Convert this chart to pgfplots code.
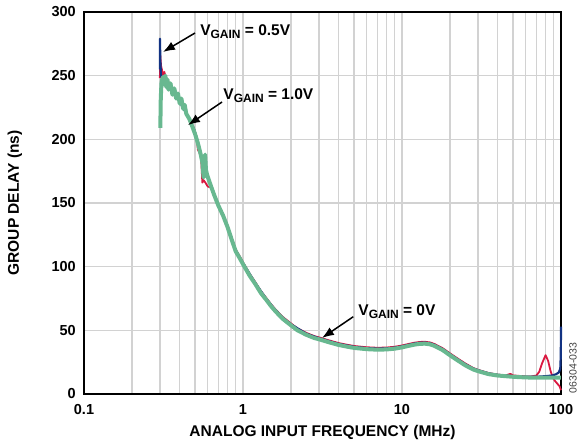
\documentclass[border=0pt]{standalone}
\usepackage{fontspec}
\setmainfont{Liberation Sans}
\usepackage{pgfplots}
\pgfplotsset{compat=1.18}
\usetikzlibrary{arrows.meta}

\definecolor{vred}{RGB}{218,24,64}
\definecolor{vblue}{RGB}{18,50,130}
\definecolor{vgreen}{RGB}{104,184,144}
\definecolor{gridgray}{RGB}{210,210,210}

\newcommand\vg[1]{V\raisebox{-3pt}{\fontsize{12}{13}\selectfont GAIN} = #1}

\begin{document}
\begin{tikzpicture}[x=1pt,y=1pt]
\useasboundingbox (0,0) rectangle (578,446);
\begin{axis}[
  at={(84pt,52pt)}, anchor=south west,
  scale only axis, width=477pt, height=382pt,
  xmode=log, xmin=0.1, xmax=100, ymin=0, ymax=300,
  xtick={0.1,1,10,100}, xticklabels={0.1,1,10,100},
  minor xtick={0.2,0.3,0.4,0.5,0.6,0.7,0.8,0.9,2,3,4,5,6,7,8,9,20,30,40,50,60,70,80,90},
  ytick={0,50,100,150,200,250,300},
  grid=both,
  major grid style={gridgray, line width=1.3pt},
  minor grid style={gridgray, line width=1.3pt},
  axis line style={line width=2pt},
  major tick length=0pt, minor tick length=0pt,
  tick label style={font=\bfseries\fontsize{14.5}{16}\selectfont},
  /pgf/number format/assume math mode=true,
  yticklabel style={inner sep=0pt, anchor=east, xshift=-8pt},
  xticklabel style={inner sep=0pt, anchor=north, yshift=-10pt},
  xlabel={ANALOG INPUT FREQUENCY (MHz)},
  ylabel={GROUP DELAY (ns)},
  label style={font=\bfseries\fontsize{15.5}{18}\selectfont},
  xlabel style={at={(axis description cs:0.5,-0.0995)}, anchor=center},
  ylabel style={at={(axis description cs:-0.1447,0.5)}, anchor=center},
  clip=false,
]
% V_GAIN = 0V
\addplot[vred, line width=1.8pt, line join=round] coordinates {
(0.300,248)(0.302,266)(0.305,258)(0.31,254)(0.315,250)(0.32,253)(0.33,247)(0.34,245)
(0.35,243)(0.37,238)(0.40,230)(0.43,223)(0.46,216)(0.49,209)(0.51,202)(0.52,192)
(0.53,190)(0.545,186)(0.555,166)(0.565,168)(0.58,166)(0.60,163)(0.63,162)(0.66,157)
(0.70,149)(0.75,141)(0.80,132)(0.85,122.5)(0.90,113.5)(0.95,108.5)(1.0,103.5)
(1.1,94.5)(1.2,87.5)(1.3,80.5)(1.4,75.5)(1.5,70.5)(1.6,66.5)(1.7,63)(1.8,60)
(2.0,55.5)(2.2,51.5)(2.5,48)(2.8,45.5)(3.0,44.5)(3.5,42)(4,40)(4.5,38.7)(5,37.7)
(6,36.7)(7,36.3)(8,36.5)(9,37.1)(10,38.1)(11,39.3)(12,40.3)(13,40.9)(14,41)
(15,40.5)(16,39.3)(18,36)(20,32)(22,28.5)(25,24)(28,20.5)(30,19)(35,16.5)
(40,15.2)(45,14.6)(48,15.8)(50,14.6)(60,13.8)(65,13.8)(70,14.5)(73,17.5)(76,24)
(80,30.5)(83,26)(86,18)(89,12.5)(92,10)(95,8)(98,6)(100,3)
};
% V_GAIN = 0.5V
\addplot[vblue, line width=2.2pt, line join=round] coordinates {
(0.300,255)(0.3005,279)(0.302,262)(0.305,250)(0.31,248)(0.32,246)(0.33,245)(0.35,243)
(0.37,238)(0.40,229.5)(0.43,222.5)(0.46,215.5)(0.49,208.5)(0.52,198)(0.55,186)
(0.58,172)(0.61,168.5)(0.66,156.5)(0.70,148.5)(0.75,140.5)(0.80,131.5)(0.85,121.7)
(0.90,112.7)(1.0,102.8)(1.2,86.8)(1.4,74.8)(1.6,65.8)(1.8,59.3)(2.0,54.8)(2.5,47.3)
(3.0,43.8)(3.5,41.3)(4,39.3)(5,37)(6,36)(7,35.6)(8,35.8)(9,36.4)(10,37.4)(11,38.6)
(12,39.6)(13,40.2)(14,40.3)(15,39.8)(16,38.6)(18,35.3)(20,31.3)(22,27.8)(25,23.3)
(28,20)(30,18.7)(35,16.2)(40,15)(50,14)(60,13.5)(70,13.5)(80,14)(88,14.5)(93,15.5)
(97,17)(99,20)(99.7,30)(100,53)
};
% V_GAIN = 1.0V
\addplot[vgreen, line width=4pt, line join=round] coordinates {
(0.302,209)(0.304,232)(0.307,244)(0.31,247)(0.315,249)(0.32,243)(0.325,250)(0.33,241)
(0.335,247)(0.34,239)(0.35,244)(0.36,235)(0.37,240)(0.38,232)(0.39,236)(0.40,228)
(0.41,232)(0.42,224)(0.43,227)(0.44,220)(0.46,216)(0.48,210)(0.50,204)(0.52,197)
(0.54,189)(0.555,182)(0.565,170)(0.572,180)(0.578,188)(0.585,176)(0.595,172)
(0.61,168)(0.63,163)(0.66,156)(0.70,148)(0.75,140)(0.80,131)(0.85,121)(0.90,112)
(0.95,107)(1.0,102)(1.1,93)(1.2,86)(1.3,79)(1.4,74)(1.5,69)(1.6,65)(1.7,61.5)
(1.8,58.5)(2.0,54)(2.2,50)(2.5,46.5)(2.8,44)(3.0,43)(3.5,40.5)(4,38.5)(4.5,37.2)
(5,36.2)(6,35.2)(7,34.8)(8,35)(9,35.6)(10,36.6)(11,37.8)(12,38.8)(13,39.4)(14,39.5)
(15,39)(16,37.8)(18,34.5)(20,30.5)(22,27)(25,22.5)(28,19.3)(30,18)(35,15.6)
(40,14.5)(50,13.5)(60,13)(70,12.8)(80,12.8)(90,12.8)(100,12.8)
};
% annotations
\draw[-{Latex[length=12pt,width=9pt]}, line width=1.5pt] (axis cs:0.499,283.5) -- (axis cs:0.314,268.6);
\node[anchor=base west, inner sep=0pt, font=\bfseries\fontsize{15.5}{17}\selectfont] at (axis cs:0.537,281.9) {\vg{0.5V}};
\draw[-{Latex[length=12pt,width=9pt]}, line width=1.5pt] (axis cs:0.738,229.3) -- (axis cs:0.451,211.2);
\node[anchor=base west, inner sep=0pt, font=\bfseries\fontsize{15.5}{17}\selectfont] at (axis cs:0.751,230.9) {\vg{1.0V}};
\draw[-{Latex[length=12pt,width=9pt]}, line width=1.5pt] (axis cs:4.94,60.7) -- (axis cs:3.14,44);
\node[anchor=base west, inner sep=0pt, font=\bfseries\fontsize{15.5}{17}\selectfont] at (axis cs:5.31,61.3) {\vg{0V}};
\end{axis}
\node[rotate=90, inner sep=0pt, text=black!75, font=\fontsize{10.5}{12}\selectfont] at (573,78) {06304-033};
\end{tikzpicture}
\end{document}
